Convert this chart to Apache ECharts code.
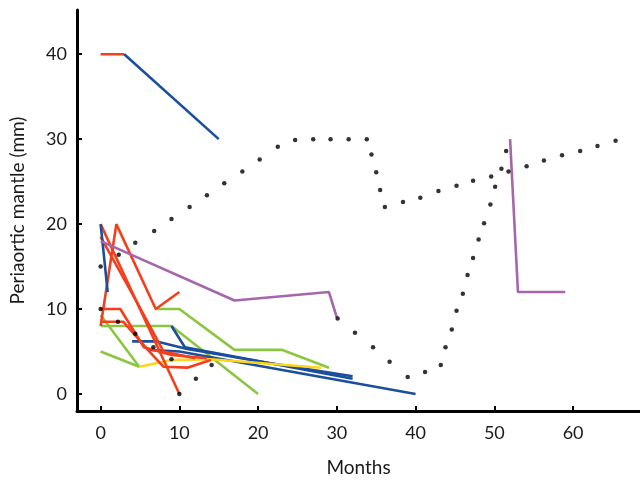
<!DOCTYPE html>
<html><head><meta charset="utf-8">
<script src="https://cdn.jsdelivr.net/npm/echarts@6/dist/echarts.min.js"></script>
<style>html,body{margin:0;padding:0;background:#fff}#c{width:640px;height:489px}</style>
</head><body><div id="c"></div>
<script>
const xTicks = [0, 10, 20, 30, 40, 50, 60];
const yTicks = [0, 10, 20, 30, 40];
const xName = 'Months';
const yName = 'Periaortic mantle (mm)';

const red1 = [[0, 40], [3, 40]];
const red2 = [[0, 8], [2, 20], [7, 10], [10, 12]];
const red3 = [[0, 20], [10, 0]];
const red4 = [[0, 18.5], [4.5, 11], [8, 5], [12, 4.2]];
const red5 = [[0, 10], [2.5, 10], [5.5, 5.5], [9, 4.6], [13.5, 4.2]];
const red6 = [[0, 8.5], [2.9, 8.5], [6, 5.2], [8, 3.2], [11, 3.1], [14, 4]];
const blue1 = [[3, 40], [15, 30]];
const blue2 = [[0, 20], [0.9, 12]];
const blue3 = [[4, 6.2], [7, 6.2], [11, 5.3], [21, 3.7], [32, 2.1]];
const blue4 = [[6, 5.2], [10, 5], [40, 0]];
const blue5 = [[9, 8], [10.7, 5.5], [32, 1.8]];
const green1 = [[7, 10], [10, 10], [17, 5.2], [23, 5.2], [29, 3.1]];
const green2 = [[0, 8], [9, 8], [20, 0]];
const green3 = [[0, 9.3], [4.9, 3.2]];
const green4 = [[0, 5], [4.9, 3.2]];
const yellow1 = [[4.9, 3.2], [9, 4], [14, 4.1], [28, 3.1]];
const purple1 = [[0, 18], [17, 11], [29, 12], [30, 9]];
const purple2 = [[52, 30], [53, 12], [59, 12]];
const dots = [
  [0, 15], [2.3, 16.4], [4.4, 17.8], [6.8, 19.2], [9.0, 20.6], [11.3, 22.0], [13.5, 23.4], [15.7, 24.8],
  [18.0, 26.2], [20.2, 27.6], [22.5, 29.1], [24.7, 29.9], [27.0, 30], [29.2, 30], [31.5, 30], [33.8, 30],
  [34.4, 28.2], [35.0, 26.1], [35.5, 24.0], [36.1, 22.0], [38.4, 22.6], [40.6, 23.1], [42.9, 23.9],
  [45.2, 24.5], [47.3, 25.1], [49.6, 25.6], [51.8, 26.2], [54.1, 26.8], [56.3, 27.5], [58.6, 28.1],
  [60.9, 28.6], [63.1, 29.2], [65.4, 29.8],
  [0, 10], [2.2, 8.5], [4.4, 7.1], [6.7, 5.5], [9.0, 4.1], [10, 0], [12.1, 1.8], [14.1, 3.4],
  [30.1, 8.9], [32.3, 7.2], [34.6, 5.5], [36.7, 3.8], [39.0, 2.0], [41.2, 2.6], [43.2, 3.4],
  [43.8, 5.5], [44.6, 7.6], [45.2, 9.8], [46.0, 11.8], [46.6, 14.0], [47.3, 16.0], [48.0, 18.2],
  [48.7, 20.1], [49.5, 22.3], [50.1, 24.4], [50.9, 26.5], [51.5, 28.6]
];

const RED = '#f2401e', BLUE = '#1b4f9c', GREEN = '#8cc641', YELLOW = '#ffd316', PURPLE = '#a566ab';
const lines = [
  [green1, GREEN], [green2, GREEN], [green3, GREEN], [green4, GREEN],
  [blue3, BLUE], [blue4, BLUE], [blue5, BLUE],
  [yellow1, YELLOW],
  [red2, RED], [red3, RED], [red4, RED], [red5, RED], [red6, RED],
  [blue2, BLUE], [purple1, PURPLE], [purple2, PURPLE], [red1, RED], [blue1, BLUE]
];

const FONT = 'Lato';
const chart = echarts.init(document.getElementById('c'), null, {renderer: 'canvas'});
const series = lines.map(([d, c]) => ({
  type: 'line', data: d, showSymbol: false, symbol: 'none',
  lineStyle: {color: c, width: 2.6}, animation: false, z: 2
}));
series.push({
  type: 'scatter', data: dots, symbol: 'circle', symbolSize: 4.5,
  itemStyle: {color: '#000'}, animation: false, z: 5
});

chart.setOption({
  backgroundColor: '#fff',
  animation: false,
  grid: {left: 72, right: 0, top: 10, bottom: 78, containLabel: false},
  xAxis: {
    type: 'value', min: -3, max: 68.5,
    name: xName, nameLocation: 'middle', nameGap: 47,
    nameTextStyle: {fontFamily: FONT, fontSize: 19, color: '#1a1a1a'},
    axisLine: {show: true, onZero: false, lineStyle: {color: '#000', width: 3}},
    axisTick: {show: true, inside: true, length: 5, lineStyle: {color: '#000', width: 2}, customValues: xTicks},
    axisLabel: {show: true, customValues: xTicks, margin: 13, fontFamily: FONT, fontSize: 18, color: '#1a1a1a'},
    splitLine: {show: false}
  },
  yAxis: {
    type: 'value', min: -2, max: 45.2,
    name: yName, nameLocation: 'middle', nameGap: 50, nameRotate: 90,
    nameTextStyle: {fontFamily: FONT, fontSize: 19, color: '#1a1a1a'},
    axisLine: {show: true, onZero: false, lineStyle: {color: '#000', width: 3}},
    axisTick: {show: true, inside: true, length: 5, lineStyle: {color: '#000', width: 2}, customValues: yTicks},
    axisLabel: {show: true, customValues: yTicks, margin: 10, fontFamily: FONT, fontSize: 18, color: '#1a1a1a'},
    splitLine: {show: false}
  },
  series: series
});
</script></body></html>
